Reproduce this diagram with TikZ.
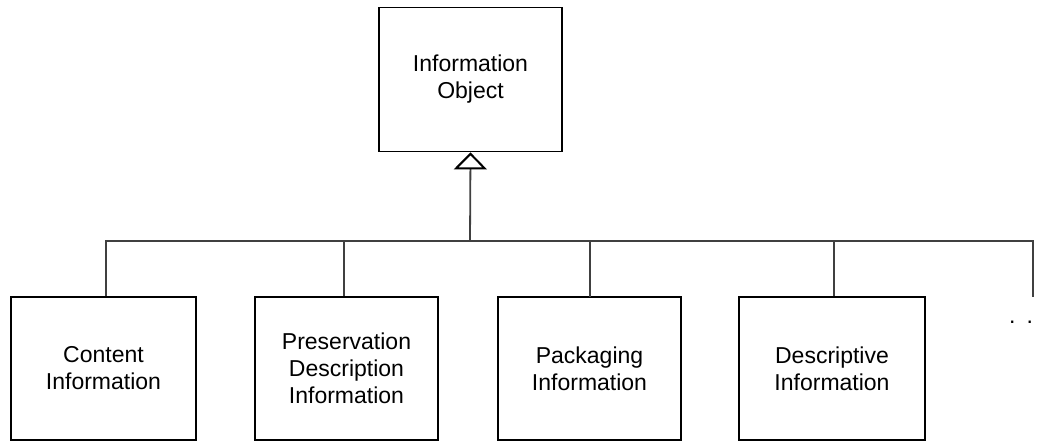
\documentclass[tikz,border=0pt]{standalone}
\usepackage{fontspec}
\setmainfont{Liberation Sans}
\usetikzlibrary{arrows.meta}
\begin{document}
\begin{tikzpicture}[x=1pt,y=-1pt,
  box/.style={draw=black,line width=1.8pt,minimum width=184pt,minimum height=143pt,align=center,inner sep=0pt,
    font=\fontsize{23pt}{27pt}\selectfont},
  wire/.style={draw=black!75,line width=1.8pt},
  gen/.style={-{Triangle[open,width=33pt,length=17pt,line width=2pt,color=black,fill=white]}}]
\useasboundingbox (0,0) rectangle (1038,442);
\node[box,minimum width=183pt,minimum height=144pt] (io) at (470.5,79.5) {Information\\Object};
\node[box,minimum width=185pt] (ci) at (103.5,368.5) {Content\\Information};
\node[box,minimum width=183pt] (pdi) at (346.5,368.5) {Preservation\\Description\\Information};
\node[box,minimum width=183pt] (pi) at (589.5,368.5) {Packaging\\Information};
\node[box,minimum width=186pt] (di) at (832,368.5) {Descriptive\\Information};
\node[inner sep=0pt,font=\fontsize{23pt}{27pt}\selectfont] (dots) at (1021,322) {.\hspace{11pt}.};
\coordinate (bus) at (470,241);
\coordinate (busl) at (106,241);
\coordinate (busr) at (1033,241);
\coordinate (more) at (1033,297);
\draw[wire] (busl |- ci.north) -- (busl) -- (busr) -- (more);
\draw[wire] (pdi.north -| 344,0) -- (344,241);
\draw[wire] (590,297) -- (590,241);
\draw[wire] (di.north -| 834,0) -- (834,241);
\draw[wire,gen] (bus) -- (io.south);
\end{tikzpicture}
\end{document}
